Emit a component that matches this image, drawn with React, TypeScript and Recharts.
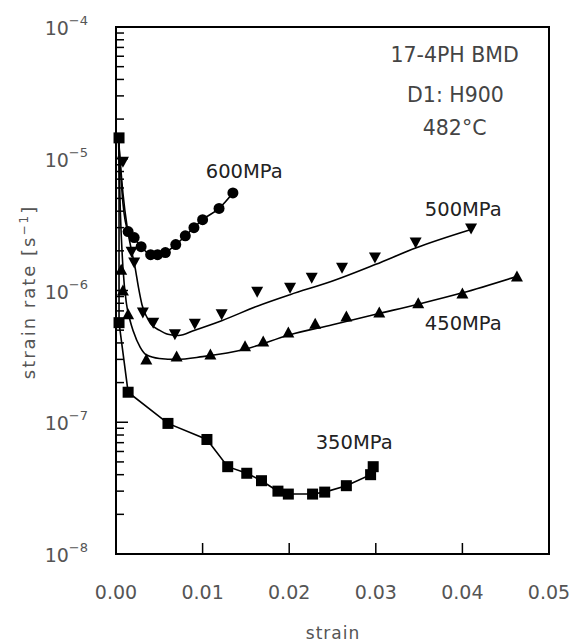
import React from 'react';
import { ComposedChart, Line, Scatter, XAxis, YAxis, ReferenceArea, ReferenceDot } from 'recharts';

// measured points (strain, strain rate)
const strain350 = [0.00035, 0.00035, 0.0014, 0.006, 0.0105, 0.0129, 0.0151, 0.0168, 0.0187, 0.0199, 0.0227, 0.0241, 0.0266, 0.0294, 0.0297];
const rate350 = [1.44e-5, 5.7e-7, 1.69e-7, 9.8e-8, 7.4e-8, 4.6e-8, 4.1e-8, 3.6e-8, 3.0e-8, 2.85e-8, 2.85e-8, 2.95e-8, 3.3e-8, 4.0e-8, 4.6e-8];

const strain450 = [0.0006, 0.0008, 0.0014, 0.0035, 0.007, 0.0109, 0.0149, 0.017, 0.0199, 0.023, 0.0266, 0.0304, 0.0349, 0.04, 0.0463];
const rate450 = [1.44e-6, 1.0e-6, 6.6e-7, 3.0e-7, 3.16e-7, 3.27e-7, 3.77e-7, 4.1e-7, 4.8e-7, 5.6e-7, 6.35e-7, 6.8e-7, 8.0e-7, 9.5e-7, 1.28e-6];

const strain500 = [0.0008, 0.0018, 0.0021, 0.0031, 0.0043, 0.0068, 0.0091, 0.0122, 0.0163, 0.0201, 0.0226, 0.0261, 0.0299, 0.0346, 0.041];
const rate500 = [9.5e-6, 1.97e-6, 1.63e-6, 6.8e-7, 5.7e-7, 4.65e-7, 5.6e-7, 6.6e-7, 9.8e-7, 1.05e-6, 1.25e-6, 1.49e-6, 1.78e-6, 2.31e-6, 2.95e-6];

const strain600 = [0.0014, 0.0021, 0.0029, 0.004, 0.0048, 0.0057, 0.0069, 0.008, 0.009, 0.01, 0.0119, 0.0135];
const rate600 = [2.8e-6, 2.52e-6, 2.15e-6, 1.87e-6, 1.87e-6, 1.94e-6, 2.23e-6, 2.6e-6, 3.0e-6, 3.45e-6, 4.2e-6, 5.5e-6];

// fitted curves
const fitStrain450 = [0.0003, 0.0005, 0.0008, 0.0012, 0.0016, 0.002, 0.0028, 0.0035, 0.005, 0.007, 0.01, 0.015, 0.02, 0.025, 0.03, 0.035, 0.04, 0.0463];
const fitRate450 = [1.3e-5, 4e-6, 1.5e-6, 8e-7, 6e-7, 4.9e-7, 3.7e-7, 3.25e-7, 3.05e-7, 3.0e-7, 3.15e-7, 3.6e-7, 4.6e-7, 5.5e-7, 6.6e-7, 7.9e-7, 9.6e-7, 1.28e-6];

const fitStrain500 = [0.0003, 0.0008, 0.0013, 0.0018, 0.0022, 0.0026, 0.003, 0.0035, 0.004, 0.005, 0.006, 0.0072, 0.0091, 0.0122, 0.0163, 0.0201, 0.025, 0.03, 0.0346, 0.041];
const fitRate500 = [1.4e-5, 5.5e-6, 3.0e-6, 2.0e-6, 1.5e-6, 1.05e-6, 7.8e-7, 6.4e-7, 5.6e-7, 5.0e-7, 4.65e-7, 4.55e-7, 5.0e-7, 5.9e-7, 7.6e-7, 9.3e-7, 1.18e-6, 1.58e-6, 2.1e-6, 2.9e-6];

const fitStrain600 = [0.0003, 0.0008, 0.0014, 0.0021, 0.0029, 0.004, 0.0048, 0.0057, 0.0069, 0.008, 0.009, 0.01, 0.0119, 0.0135];
const fitRate600 = [1.4e-5, 4.6e-6, 2.8e-6, 2.5e-6, 2.15e-6, 1.88e-6, 1.87e-6, 1.95e-6, 2.22e-6, 2.6e-6, 3.0e-6, 3.45e-6, 4.2e-6, 5.5e-6];

const xTicks = [0, 0.01, 0.02, 0.03, 0.04, 0.05];
const xTickLabels = ['0.00', '0.01', '0.02', '0.03', '0.04', '0.05'];
const decades = [1e-8, 1e-7, 1e-6, 1e-5, 1e-4];
const decadeExp = ['−8', '−7', '−6', '−5', '−4'];

const curveLabels = [
  { x: 0.0148, y: 8.1e-6, text: '600MPa' },
  { x: 0.0401, y: 4.18e-6, text: '500MPa' },
  { x: 0.0401, y: 5.62e-7, text: '450MPa' },
  { x: 0.0275, y: 7.05e-8, text: '350MPa' },
];
const noteLabels = [
  { x: 0.0391, y: 6.13e-5, text: '17-4PH BMD' },
  { x: 0.0392, y: 3.06e-5, text: 'D1: H900' },
  { x: 0.0391, y: 1.72e-5, text: '482°C' },
];

const zip = (xs: number[], ys: number[]) => xs.map((x, i) => ({ x, y: ys[i] }));

const FONT = 'DejaVu Sans';

const yTicks: number[] = [];
decades.forEach((d, i) => {
  yTicks.push(d);
  if (i < decades.length - 1) for (let k = 2; k <= 9; k++) yTicks.push(d * k);
});

const YTick = (props: any) => {
  const { x, y, payload } = props;
  const idx = decades.findIndex((d) => Math.abs(payload.value - d) / d < 1e-6);
  const major = idx >= 0;
  return (
    <g>
      <line x1={x} x2={x + (major ? 12 : 8)} y1={y} y2={y} stroke="#000" strokeWidth={1.5} />
      {major && (
        <text x={x - 28} y={y + 8} textAnchor="end" fontFamily={FONT} fontSize={19} fill="#555">
          <tspan>10</tspan>
          <tspan dy={-10} fontSize={13}>{decadeExp[idx]}</tspan>
        </text>
      )}
    </g>
  );
};

const XTick = (props: any) => {
  const { x, y, payload } = props;
  const idx = xTicks.findIndex((t) => Math.abs(t - payload.value) < 1e-9);
  const edge = idx === 0 || idx === xTicks.length - 1;
  return (
    <g>
      {!edge && <line x1={x} x2={x} y1={y} y2={y - 11} stroke="#000" strokeWidth={1.5} />}
      <text x={x} y={y + 45} textAnchor="middle" fontFamily={FONT} fontSize={19} fill="#555">
        {xTickLabels[idx]}
      </text>
    </g>
  );
};

const square = (p: any) => <rect x={p.cx - 5.5} y={p.cy - 5.5} width={11} height={11} fill="#000" />;
const circle = (p: any) => <circle cx={p.cx} cy={p.cy} r={5.5} fill="#000" />;
const triDown = (p: any) => (
  <polygon points={`${p.cx - 6},${p.cy - 5} ${p.cx + 6},${p.cy - 5} ${p.cx},${p.cy + 6}`} fill="#000" />
);
const triUp = (p: any) => (
  <polygon points={`${p.cx - 6},${p.cy + 5} ${p.cx + 6},${p.cy + 5} ${p.cx},${p.cy - 6}`} fill="#000" />
);

export default function App() {
  return (
    <div style={{ position: 'absolute', left: 0, top: 0, width: 574, height: 643, background: '#fff' }}>
      <ComposedChart width={574} height={643} margin={{ top: 27, right: 25, bottom: 59, left: 0 }}>
        <XAxis
          dataKey="x"
          type="number"
          domain={[0, 0.05]}
          ticks={xTicks}
          interval={0}
          height={30}
          tickSize={0}
          tickMargin={0}
          tick={<XTick />}
          axisLine={{ stroke: '#000', strokeWidth: 2 }}
        />
        <YAxis
          dataKey="y"
          type="number"
          scale="log"
          domain={[1e-8, 1e-4]}
          allowDataOverflow
          ticks={yTicks}
          interval={0}
          width={116}
          tickSize={0}
          tickMargin={0}
          tick={<YTick />}
          axisLine={{ stroke: '#000', strokeWidth: 2 }}
        />
        <ReferenceArea x1={0} x2={0.05} y1={1e-8} y2={1e-4} fill="none" stroke="#000" strokeWidth={2} />

        <Line data={zip(strain350, rate350)} dataKey="y" type="linear" stroke="#000" strokeWidth={1.6} dot={false} isAnimationActive={false} />
        <Line data={zip(fitStrain450, fitRate450)} dataKey="y" type="monotone" stroke="#000" strokeWidth={1.6} dot={false} isAnimationActive={false} />
        <Line data={zip(fitStrain500, fitRate500)} dataKey="y" type="monotone" stroke="#000" strokeWidth={1.6} dot={false} isAnimationActive={false} />
        <Line data={zip(fitStrain600, fitRate600)} dataKey="y" type="monotone" stroke="#000" strokeWidth={1.6} dot={false} isAnimationActive={false} />

        <Scatter data={zip(strain350, rate350)} dataKey="y" shape={square} isAnimationActive={false} />
        <Scatter data={zip(strain450, rate450)} dataKey="y" shape={triUp} isAnimationActive={false} />
        <Scatter data={zip(strain500, rate500)} dataKey="y" shape={triDown} isAnimationActive={false} />
        <Scatter data={zip(strain600, rate600)} dataKey="y" shape={circle} isAnimationActive={false} />

        {curveLabels.map((l) => (
          <ReferenceDot
            key={l.text}
            x={l.x}
            y={l.y}
            r={0}
            fill="none"
            stroke="none"
            label={{ value: l.text, position: 'center', fontSize: 19.5, fill: '#222', fontFamily: FONT }}
          />
        ))}
        {noteLabels.map((l) => (
          <ReferenceDot
            key={l.text}
            x={l.x}
            y={l.y}
            r={0}
            fill="none"
            stroke="none"
            label={{ value: l.text, position: 'center', fontSize: 20.5, fill: '#444', fontFamily: FONT }}
          />
        ))}
      </ComposedChart>
      <div
        style={{
          position: 'absolute',
          left: 28,
          top: 292,
          transform: 'translate(-50%, -50%) rotate(-90deg)',
          whiteSpace: 'nowrap',
          fontFamily: FONT,
          fontSize: 18,
          letterSpacing: 2,
          color: '#555',
        }}
      >
        strain rate [s<sup style={{ fontSize: 12 }}>−1</sup>]
      </div>
      <div
        style={{
          position: 'absolute',
          left: 333,
          top: 633,
          transform: 'translate(-50%, -50%)',
          whiteSpace: 'nowrap',
          fontFamily: FONT,
          fontSize: 17,
          letterSpacing: 1,
          color: '#555',
        }}
      >
        strain
      </div>
    </div>
  );
}
